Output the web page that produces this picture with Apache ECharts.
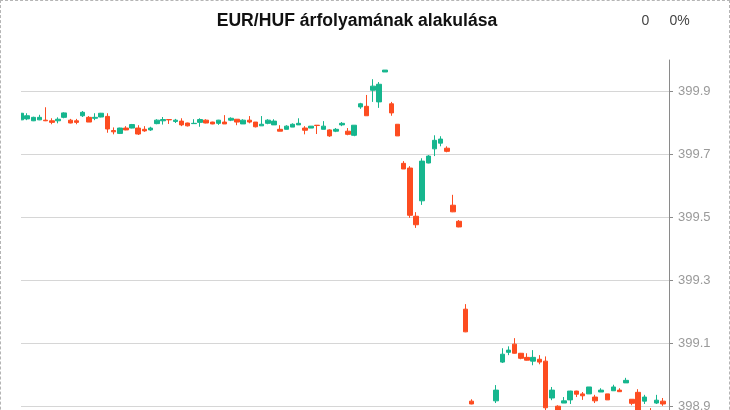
<!DOCTYPE html>
<html><head><meta charset="utf-8">
<script src="https://cdn.jsdelivr.net/npm/echarts@6/dist/echarts.min.js"></script>
<style>
html,body{margin:0;padding:0;overflow:hidden;background:#fff;}
#wrap{position:relative;width:730px;height:500px;}
#chart{position:absolute;left:0;top:0;width:730px;height:500px;}
#frame{position:absolute;left:0;top:0;width:730px;height:500px;box-sizing:border-box;border:1px dashed #b5b5b5;pointer-events:none;}
</style></head><body>
<div id="wrap"><div id="chart"></div><div id="frame"></div></div>
<script>
const titleText = 'EUR/HUF árfolyamának alakulása';
const changeValue = '0';
const changePercent = '0%';
const yTicks = {min: 398.7, max: 400.0, step: 0.2};

const opens = [
399.810,399.813,399.807,399.810,399.809,399.807,399.807,399.818,399.809,399.807,
399.823,399.818,399.815,399.819,399.821,399.776,399.767,399.784,399.784,399.784,
399.780,399.778,399.798,399.807,399.811,399.805,399.806,399.800,399.798,399.802,
399.809,399.803,399.799,399.803,399.809,399.812,399.797,399.809,399.803,399.791,
399.799,399.794,399.780,399.780,399.787,399.794,399.784,399.784,399.793,399.780,
399.778,399.774,399.794,399.774,399.761,399.851,399.853,399.904,399.867,399.962,
399.861,399.796,399.672,399.657,399.504,399.553,399.673,399.718,399.736,399.720,
399.539,399.488,399.209,398.917,398.870,398.856,398.848,398.918,399.041,399.072,
399.098,399.069,399.056,399.044,399.050,399.044,398.927,398.901,398.911,398.921,
398.949,398.940,398.940,398.930,398.946,398.940,398.950,398.952,398.975,398.923,
398.945,398.917,398.878,398.911,398.917,398.870];
const closes = [
399.831,399.823,399.818,399.818,399.807,399.802,399.812,399.832,399.800,399.802,
399.834,399.803,399.818,399.831,399.781,399.772,399.784,399.778,399.795,399.765,
399.775,399.784,399.809,399.811,399.810,399.809,399.794,399.791,399.799,399.811,
399.800,399.797,399.809,399.797,399.815,399.803,399.809,399.803,399.788,399.796,
399.809,399.806,399.774,399.790,399.796,399.799,399.777,399.790,399.792,399.790,
399.759,399.780,399.799,399.764,399.793,399.861,399.823,399.917,399.923,399.968,
399.832,399.759,399.654,399.507,399.477,399.679,399.695,399.745,399.749,399.710,
399.518,399.470,399.137,398.908,398.855,398.848,398.872,398.952,399.066,399.079,
399.069,399.053,399.047,399.056,399.041,398.896,398.952,398.870,398.918,398.949,
398.939,398.934,398.962,398.918,398.952,398.921,398.962,398.947,398.983,398.910,
398.860,398.930,398.860,398.920,398.908,398.860];
const lows = [
399.809,399.809,399.806,399.809,399.806,399.796,399.799,399.815,399.799,399.796,
399.819,399.803,399.809,399.818,399.769,399.764,399.765,399.777,399.783,399.762,
399.772,399.775,399.796,399.795,399.797,399.800,399.790,399.789,399.797,399.788,
399.799,399.796,399.794,399.797,399.806,399.793,399.797,399.799,399.786,399.791,
399.796,399.794,399.774,399.780,399.787,399.794,399.764,399.784,399.765,399.780,
399.756,399.771,399.790,399.761,399.758,399.845,399.823,399.867,399.848,399.962,
399.823,399.759,399.654,399.499,399.467,399.540,399.672,399.695,399.726,399.707,
399.517,399.469,399.136,398.907,398.850,398.840,398.842,398.911,399.038,399.063,
399.068,399.050,399.046,399.031,399.034,398.880,398.920,398.865,398.911,398.908,
398.930,398.921,398.940,398.911,398.946,398.921,398.950,398.946,398.975,398.904,
398.850,398.908,398.850,398.908,398.902,398.850];
const highs = [
399.834,399.831,399.820,399.826,399.850,399.815,399.818,399.834,399.813,399.813,
399.838,399.822,399.831,399.832,399.831,399.786,399.785,399.790,399.797,399.793,
399.790,399.788,399.812,399.819,399.812,399.813,399.815,399.801,399.812,399.815,
399.812,399.804,399.810,399.825,399.818,399.812,399.812,399.822,399.803,399.822,
399.812,399.812,399.793,399.793,399.799,399.815,399.790,399.790,399.793,399.806,
399.780,399.784,399.803,399.784,399.793,399.864,399.889,399.939,399.930,399.968,
399.867,399.796,399.679,399.663,399.517,399.688,399.698,399.761,399.758,399.726,
399.572,399.492,399.225,398.923,398.875,398.868,398.876,398.968,399.085,399.091,
399.117,399.070,399.069,399.079,399.063,399.059,398.962,398.904,398.930,398.950,
398.950,398.946,398.962,398.937,398.958,398.940,398.969,398.958,398.991,398.923,
398.955,398.937,398.895,398.937,398.927,398.875];
const categories = opens.map((_, i) => String(i + 1));

const candles = opens.map((o, i) => [o, closes[i], lows[i], highs[i]]);
const UP = '#16b68e', DOWN = '#fd4c20';
const FONT = '"Liberation Sans", Arial, Helvetica, sans-serif';

const chart = echarts.init(document.getElementById('chart'), null, {renderer: 'canvas'});
chart.setOption({
  animation: false,
  backgroundColor: '#fff',
  textStyle: {fontFamily: FONT},
  graphic: [
    {type: 'rect', z: 100, shape: {x: 0, y: 40, width: 21, height: 460}, style: {fill: '#fff'}, silent: true},
    {type: 'text', z: 101, x: 357, y: 21, style: {text: titleText, fontFamily: FONT, fontSize: 17.6, fontWeight: 'bold', fill: '#111', align: 'center', verticalAlign: 'middle'}},
    {type: 'text', z: 101, x: 645.5, y: 21, style: {text: changeValue, fontFamily: FONT, fontSize: 14, fill: '#444', align: 'center', verticalAlign: 'middle'}},
    {type: 'text', z: 101, x: 669.5, y: 21, style: {text: changePercent, fontFamily: FONT, fontSize: 14, fill: '#444', align: 'left', verticalAlign: 'middle'}}
  ],
  grid: {left: 21, right: 61, top: 60, bottom: 30.5, containLabel: false},
  xAxis: {type: 'category', data: categories, boundaryGap: false, show: false},
  yAxis: {
    type: 'value', position: 'right', min: yTicks.min, max: yTicks.max, interval: yTicks.step,
    axisLine: {show: true, lineStyle: {color: '#8a8a8a', width: 1}},
    axisTick: {show: true, length: 4, lineStyle: {color: '#8a8a8a'}},
    axisLabel: {color: '#9a9a9a', fontSize: 13, margin: 9, showMaxLabel: false, fontFamily: FONT,
      formatter: v => v.toFixed(1)},
    splitLine: {show: true, showMaxLine: false, lineStyle: {color: '#d6d6d6', width: 1}}
  },
  series: [{
    type: 'candlestick',
    data: candles,
    barWidth: '82%',
    clip: true,
    itemStyle: {color: UP, color0: DOWN, borderColor: UP, borderColor0: DOWN, borderWidth: 1}
  }]
});
</script>
</body></html>
